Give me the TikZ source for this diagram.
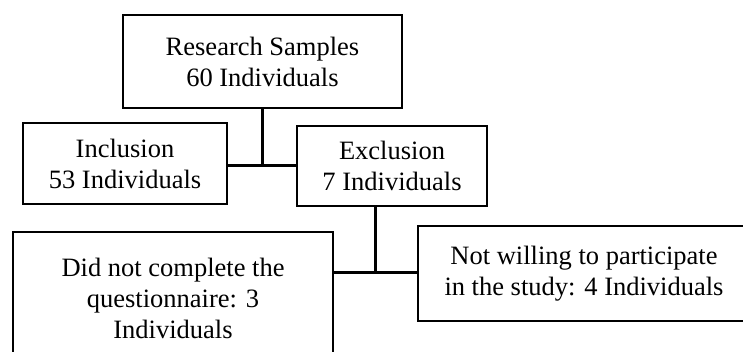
\documentclass[tikz,border=0pt]{standalone}
\usepackage{fontspec}
\setmainfont{Liberation Serif}

\begin{document}
\begin{tikzpicture}[x=0.5pt,y=-0.5pt,
  box/.style={rectangle,draw=black,line width=1pt,align=center,inner sep=0pt,
    font=\fontsize{13.25}{15.5}\selectfont},
  link/.style={draw=black,line width=1.5pt}]
\useasboundingbox (0,0) rectangle (743,352);
\clip (0,0) rectangle (743,352);
\node[box,minimum width=139.5pt,minimum height=46.5pt] (samples) at (262.5,61.5) {Research Samples\\60 Individuals};
\node[box,minimum width=102pt,minimum height=40.5pt]   (incl)    at (125,163.5)  {Inclusion\\53 Individuals};
\node[box,minimum width=95pt,minimum height=40pt]      (excl)    at (392,166)    {Exclusion\\7 Individuals};
\node[box,minimum width=160pt,minimum height=66pt]     (didnot)  at (173,298)    {Did not complete the\\questionnaire: 3\\Individuals};
\node[box,minimum width=166pt,minimum height=47.5pt]   (notwill) at (584,273.5)  {Not willing to participate\\in the study: 4 Individuals};
\coordinate (j1) at (262.5,166);
\coordinate (j2) at (375,272);
\draw[link] (samples.south) -- (j1);
\draw[link] (incl.east |- j1) -- (excl.west |- j1);
\draw[link] (excl.south -| j2) -- (j2);
\draw[link] (didnot.east |- j2) -- (notwill.west |- j2);
\end{tikzpicture}
\end{document}
